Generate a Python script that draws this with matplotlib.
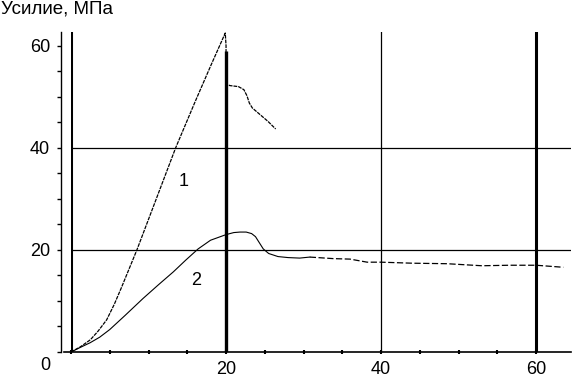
import numpy as np
import matplotlib
matplotlib.use('Agg')
import matplotlib.pyplot as plt
from matplotlib.ticker import MultipleLocator

plt.rcParams['font.family'] = ['Liberation Sans', 'DejaVu Sans']
plt.rcParams['font.size'] = 13

# curve 1 (goes up to the peak, drops at x=20, then decays)
x1 = [0, 1.2, 2.5, 3.5, 4.6, 5.6, 6.5, 8.5, 11, 13.5, 16, 18, 19.9, 20.0, 20.0,
      20.5, 21.6, 22.3, 22.7, 23.0, 23.4, 24.4, 25.4, 26.4]
y1 = [0, 1.0, 2.4, 4.1, 6.3, 9.4, 12.6, 20, 30, 40, 49, 56, 62.5, 60, 52.5,
      52.2, 52.0, 51.4, 50.2, 48.8, 47.8, 46.5, 45.2, 43.7]

# curve 2
x2 = [0, 1.2, 2.45, 3.7, 5, 7, 9.3, 11.3, 13.2, 14.8, 16.4, 18, 20, 21, 21.8, 22.6,
      23.3, 23.8, 24.3, 24.8, 25.5, 26.7, 28, 29.5, 30.8, 33.8, 36, 38.2, 40, 44,
      48.5, 53, 56.6, 60, 63.5]
y2 = [0, 0.9, 1.8, 2.9, 4.4, 7.2, 10.5, 13.2, 15.7, 18, 20.2, 21.9, 23.0, 23.4,
      23.5, 23.5, 23.2, 22.6, 21.4, 20.2, 19.3, 18.7, 18.5, 18.4, 18.6, 18.3,
      18.2, 17.6, 17.6, 17.4, 17.3, 16.9, 17.0, 17.0, 16.6]

curve_labels = ['1', '2']
label_pos = [(14.5, 33.5), (16.1, 14.1)]

fig = plt.figure(figsize=(5.77, 3.80), dpi=100)
ax = fig.add_axes([71/577, 28/380, 500/577, 320/380])
ax.set_xlim(0, 64.5)
ax.set_ylim(0, 62.7)

for s in ['top', 'right']:
    ax.spines[s].set_visible(False)
ax.spines['left'].set_position(('outward', 7))
ax.spines['left'].set_linewidth(1.0)
ax.spines['bottom'].set_linewidth(1.2)
ax.spines['bottom'].set_bounds(-0.9, 64.5)

#thick axis line at x=0
ax.axvline(0, color='k', lw=2.2)

#grid
for g in [20, 40]:
    ax.axhline(g, color='k', lw=0.9)
ax.vlines(20, 0, 59, color='k', lw=2.4)
ax.axvline(40, color='k', lw=0.9)
ax.axvline(60, color='k', lw=2.2)

#curves
ax.plot(x1, y1, color='k', lw=0.9, dashes=(3, 0.8))
x2a = np.array(x2)
y2a = np.array(y2)
m = x2a <= 30.8
ax.plot(x2a[m], y2a[m], color='k', lw=0.8)
ax.plot(x2a[x2a >= 30.8], y2a[x2a >= 30.8], color='k', lw=0.9, dashes=(5, 2))

for lab, (lx, ly) in zip(curve_labels, label_pos):
    ax.text(lx, ly, lab, ha='center', va='center')

#ticks
ax.xaxis.set_minor_locator(MultipleLocator(5))
ax.yaxis.set_minor_locator(MultipleLocator(5))
ax.set_xticks([20, 40, 60])
ax.set_yticks([20, 40, 60])
ax.tick_params(axis='x', which='both', direction='inout', length=3, width=1.5, pad=5)
ax.tick_params(axis='y', which='both', direction='out', length=3, width=1.0, pad=5)

ax.text(-3.3, -2.6, '0', ha='center', va='center', clip_on=False)
fig.text(1/577, 1 - 1/380, 'Усилие, МПа', ha='left', va='top', fontsize=13.5)

fig.savefig('out.png', dpi=100)
